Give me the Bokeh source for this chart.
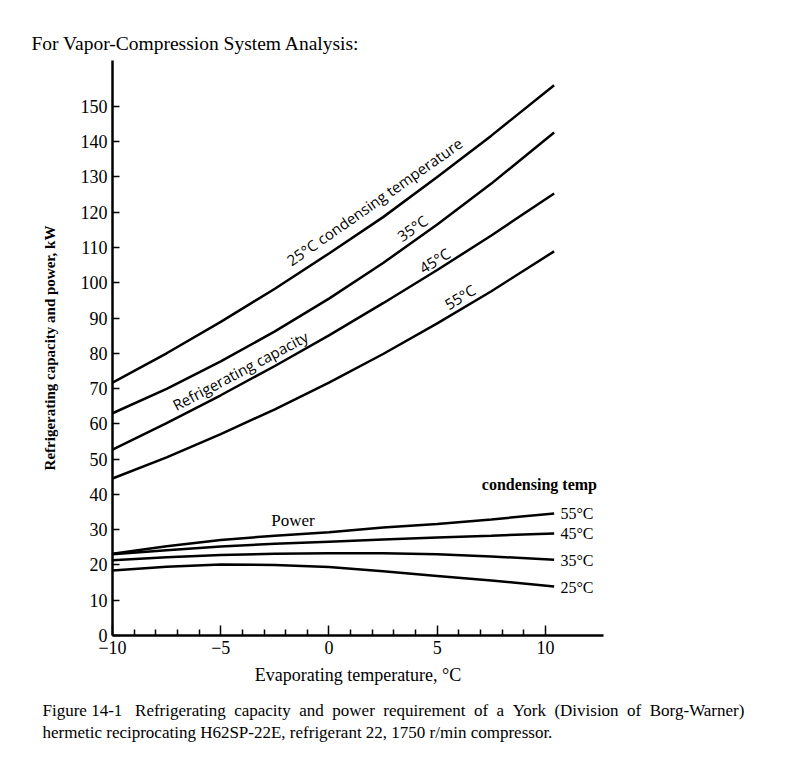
from bokeh.plotting import figure
from bokeh.models import FixedTicker, Label, Range1d, Title
from bokeh.embed import file_html
from bokeh.resources import INLINE

# ---------------- data ----------------
evap_temp = [-10, -7.5, -5, -2.5, 0, 2.5, 5, 7.5, 10.4]

cap_25 = [71.7, 80.0, 88.9, 98.3, 108.3, 118.6, 130.0, 141.7, 156.0]
cap_35 = [63.0, 69.9, 77.7, 86.2, 95.5, 105.6, 116.5, 128.1, 142.6]
cap_45 = [52.7, 60.2, 68.1, 76.4, 85.1, 94.2, 103.6, 113.4, 125.3]
cap_55 = [44.5, 50.5, 57.1, 64.1, 71.7, 79.8, 88.5, 97.6, 108.9]

pow_55 = [23.2, 25.3, 27.1, 28.3, 29.3, 30.6, 31.6, 32.9, 34.6]
pow_45 = [23.0, 24.2, 25.2, 26.0, 26.6, 27.2, 27.8, 28.3, 28.9]
pow_35 = [21.3, 22.2, 22.8, 23.2, 23.3, 23.3, 23.0, 22.4, 21.5]
pow_25 = [18.4, 19.5, 20.1, 20.0, 19.4, 18.2, 16.9, 15.6, 13.9]

power_labels = ["55°C", "45°C", "35°C", "25°C"]
power_label_y = [34.6, 28.9, 21.3, 13.6]

x_major_ticks = [-10, -5, 0, 5, 10]
x_tick_labels = ["\u221210", "\u22125", "0", "5", "10"]
x_minor_ticks = [-9, -8, -7, -6, -4, -3, -2, -1, 1, 2, 3, 4, 6, 7, 8, 9]
y_ticks = [0, 10, 20, 30, 40, 50, 60, 70, 80, 90, 100, 110, 120, 130, 140, 150]

page_title = "For Vapor-Compression System Analysis:"
caption_words_1 = ["Figure", "14-1\u00a0", "Refrigerating", "capacity", "and", "power",
                   "requirement", "of", "a", "York", "(Division", "of", "Borg-Warner)"]
caption_2 = "hermetic reciprocating H62SP-22E, refrigerant 22, 1750 r/min compressor."

SERIF = "Liberation Serif"
SANS = "Open Sans"

# justified first caption line (wider word gaps, as in the printed figure)
caption_1 = caption_words_1[0] + " " + " \u00a0".join(caption_words_1[1:])

p = figure(width=811, height=771, output_backend="svg", toolbar_location=None,
           x_range=Range1d(-10, 12.68), y_range=Range1d(0, 163),
           min_border_left=112, min_border_right=208,
           min_border_top=60, min_border_bottom=136)
p.outline_line_color = None
p.grid.visible = False
p.background_fill_color = "white"
p.border_fill_color = "white"

# page title (above the frame)
p.title.text = page_title
p.title.align = "left"
p.title.offset = -81
p.title.standoff = 14
p.title.text_font = SERIF
p.title.text_font_size = "19.5px"
p.title.text_font_style = "normal"
p.title.text_color = "black"

# x axis
xa = p.xaxis[0]
xa.ticker = FixedTicker(ticks=x_major_ticks, minor_ticks=x_minor_ticks)
xa.major_label_overrides = {t: s for t, s in zip(x_major_ticks, x_tick_labels)}
xa.major_tick_in = 10
xa.major_tick_out = 0
xa.minor_tick_in = 6
xa.minor_tick_out = 0
xa.major_tick_line_width = 1.5
xa.minor_tick_line_width = 1.5
xa.axis_line_width = 2.5
xa.axis_line_color = "black"
xa.major_tick_line_color = "black"
xa.minor_tick_line_color = "black"
xa.major_label_standoff = 5
xa.major_label_text_font = SERIF
xa.major_label_text_font_size = "18px"
xa.major_label_text_color = "black"
xa.axis_label = "Evaporating temperature, °C"
xa.axis_label_text_font = SERIF
xa.axis_label_text_font_size = "18px"
xa.axis_label_text_font_style = "normal"
xa.axis_label_text_color = "black"
xa.axis_label_standoff = 8

# y axis
ya = p.yaxis[0]
ya.ticker = FixedTicker(ticks=y_ticks)
ya.major_tick_in = 7
ya.major_tick_out = 0
ya.minor_tick_in = 0
ya.minor_tick_out = 0
ya.major_tick_line_width = 1.5
ya.axis_line_width = 2.5
ya.axis_line_color = "black"
ya.major_tick_line_color = "black"
ya.major_label_standoff = 5
ya.major_label_text_font = SERIF
ya.major_label_text_font_size = "18px"
ya.major_label_text_color = "black"
ya.axis_label = "Refrigerating capacity and power, kW"
ya.axis_label_text_font = SERIF
ya.axis_label_text_font_size = "15px"
ya.axis_label_text_font_style = "bold"
ya.axis_label_text_color = "black"
ya.axis_label_standoff = 20

# caption below the axis (two lines in one title)
p.add_layout(Title(text=caption_1 + "\n" + caption_2, align="left", offset=-70,
                   standoff=22, text_font=SERIF, text_font_size="17px",
                   text_font_style="normal", text_color="black",
                   text_line_height=1.2), "below")

# curves
for ys in (cap_25, cap_35, cap_45, cap_55, pow_55, pow_45, pow_35, pow_25):
    p.line(evap_temp, ys, line_color="black", line_width=2.5)

def add_label(x, y, text, font=SANS, size="15px", angle=0.0, align="center",
              style="normal"):
    p.add_layout(Label(x=x, y=y, text=text,
                       text_font=font, text_font_size=size, text_font_style=style,
                       text_color="black", angle=angle, angle_units="deg",
                       text_align=align, text_baseline="middle"))

# labels on capacity curves
add_label(2.1, 123.0, "25°C condensing temperature", angle=35)
add_label(3.85, 115.5, "35°C", angle=35)
add_label(4.88, 106.3, "45°C", angle=32)
add_label(6.05, 96.0, "55°C", angle=31)
add_label(-4.1, 75.1, "Refrigerating capacity", angle=28)

# power labels
add_label(-1.66, 32.6, "Power", font=SERIF, size="17px")
add_label(9.72, 42.8, "condensing temp", font=SERIF, size="16px", style="bold")
for lab, yy in zip(power_labels, power_label_y):
    add_label(10.69, yy, lab, font=SERIF, size="16px", align="left")

open("out.html", "w").write(file_html(p, INLINE))
